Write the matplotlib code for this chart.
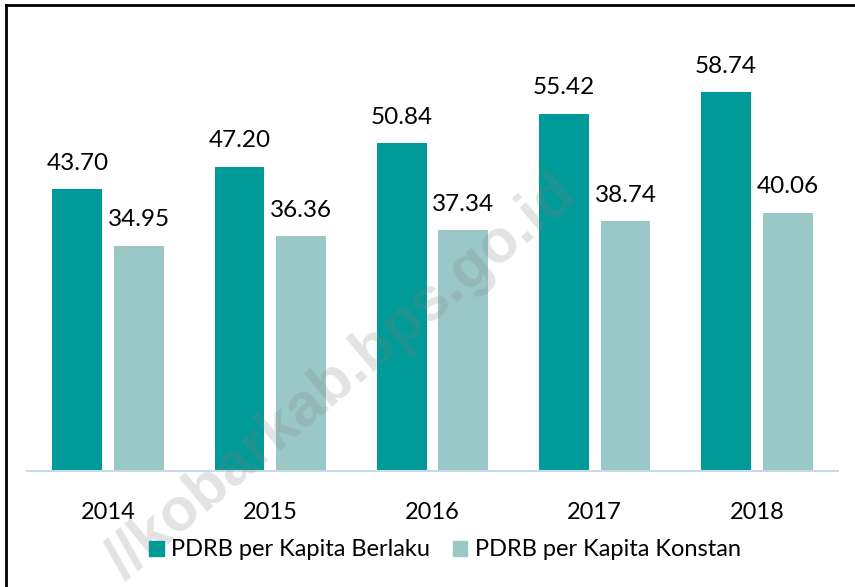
import numpy as np
import matplotlib.pyplot as plt
from matplotlib.lines import Line2D
from matplotlib.patches import Patch

years = ["2014", "2015", "2016", "2017", "2018"]
berlaku = [43.70, 47.20, 50.84, 55.42, 58.74]
konstan = [34.95, 36.36, 37.34, 38.74, 40.06]
series_names = ["PDRB per Kapita Berlaku", "PDRB per Kapita Konstan"]

dark = "#009a98"
light = "#99c8c6"
W, H = 855, 587

plt.rcParams['font.family'] = ['Lato', 'DejaVu Sans']

fig = plt.figure(figsize=(W / 100, H / 100), dpi=100)
ax = fig.add_axes([27 / W, 1 - 471 / H, (838 - 27) / W, (471 - 19.5) / H])

x = np.arange(len(years))
bw = 0.308
off = 0.19
b1 = ax.bar(x - off, berlaku, bw, color=dark, zorder=2)
b2 = ax.bar(x + off, konstan, bw, color=light, zorder=2)

for bars, vals in ((b1, berlaku), (b2, konstan)):
    for r, v in zip(bars, vals):
        ax.text(r.get_x() + r.get_width() / 2, v + 2.4, f"{v:.2f}",
                ha="center", va="bottom", fontsize=17.5, color="black")

ax.set_xlim(-0.5, len(years) - 0.5)
ax.set_ylim(0, 70)
ax.set_yticks([])
ax.set_xticks(x)
ax.set_xticklabels(years, fontsize=17)
ax.tick_params(axis="x", length=0, pad=22)
for s in ("top", "right", "left"):
    ax.spines[s].set_visible(False)
ax.spines["bottom"].set_color("#c9d9ec")
ax.spines["bottom"].set_linewidth(1.5)

handles = [Patch(color=dark), Patch(color=light)]
fig.legend(handles, series_names, loc="center", bbox_to_anchor=(445 / W, 1 - 550 / H),
           ncol=2, frameon=False, fontsize=17, handlelength=0.6, handleheight=0.6,
           handletextpad=0.3, columnspacing=1.0)

# watermark
fig.text(342 / W, 1 - 378 / H, "//kobarkab.bps.go.id", fontsize=44, fontweight="bold",
         family="Liberation Sans", color="#808080", alpha=0.22, rotation=40,
         ha="center", va="center", zorder=5)

# frame (left and top only)
fig.add_artist(Line2D([5.5 / W, 5.5 / W], [0, 1 - 5 / H], color="black", lw=2,
                      transform=fig.transFigure))
fig.add_artist(Line2D([5.5 / W, 1], [1 - 5 / H, 1 - 5 / H], color="black", lw=2,
                      transform=fig.transFigure))

fig.savefig("out.png", dpi=100)
